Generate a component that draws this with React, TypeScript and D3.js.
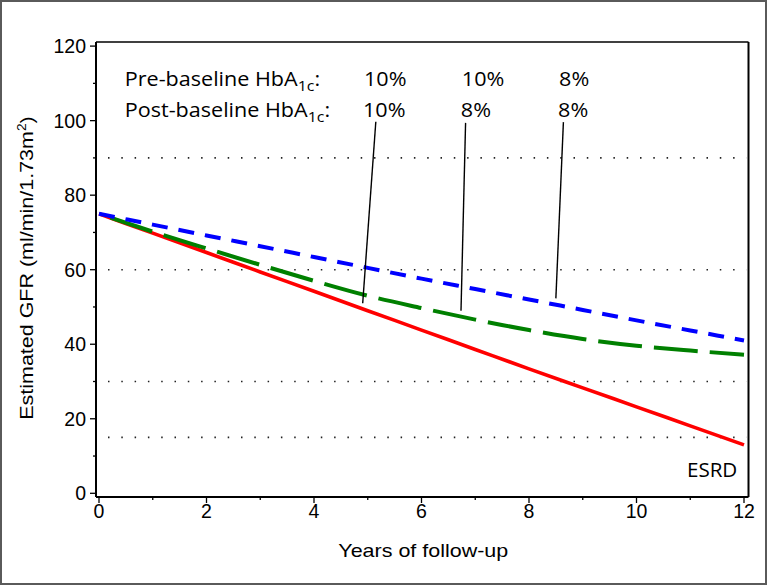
import React from "react";
import * as d3 from "d3";

const years = [0, 1, 2, 3, 4, 5, 6, 7, 8, 9, 10, 11, 12];
const redValues = [75, 69.8, 64.6, 59.4, 54.2, 49.0, 43.8, 38.6, 33.4, 28.3, 23.2, 18.1, 13.0];
const greenValues = [75, 70.2, 65.7, 61.3, 57.0, 53.0, 49.7, 46.6, 43.8, 41.4, 39.6, 38.3, 37.2];
const blueValues = [75, 72.1, 69.2, 66.3, 63.4, 60.5, 57.6, 54.8, 52.0, 49.2, 46.4, 43.7, 41.0];

const xTicks = [0, 2, 4, 6, 8, 10, 12];
const xMinorTicks = [1, 3, 5, 7, 9, 11];
const yTicks = [0, 20, 40, 60, 80, 100, 120];
const yMinorTicks = [10, 30, 50, 70, 90, 110];
const refLines = [90, 60, 30, 15];

const preLabels = ["10%", "10%", "8%"];
const postLabels = ["10%", "8%", "8%"];
const columnX = [4.93, 6.75, 8.56];
// leader lines: [x1, y1, x2, y2] in data units
const leaders = [
  [5.15, 99.7, 4.906, 51.0],
  [6.82, 99.4, 6.735, 49.0],
  [8.64, 99.6, 8.5, 52.3],
];

const W = 768;
const H = 586;
const frameL = 96, frameR = 748.5, frameT = 42, frameB = 497;

const axisFont = "'Liberation Sans', Arial, sans-serif";
const annFont = "'Open Sans', 'Noto Sans', sans-serif";
const annSize = 19.6;
const annStretch = 1.1;
const titleStretch = 1.155;

function SText({ x, y, sx, anchor, family, size, children }: any) {
  return (
    <g transform={`translate(${x},${y}) scale(${sx},1)`}>
      <text x={0} y={0} textAnchor={anchor || "start"} fontFamily={family} fontSize={size} fill="#000">
        {children}
      </text>
    </g>
  );
}

export default function App() {
  const x = d3.scaleLinear().domain([0, 12]).range([99, 744]);
  const y = d3.scaleLinear().domain([0, 120]).range([493.3, 46.1]);
  const line = d3
    .line<number>()
    .x((_, i) => x(years[i]))
    .y((d) => y(d))
    .curve(d3.curveMonotoneX);

  return (
    <svg width={W} height={H} style={{ position: "absolute", left: 0, top: 0, background: "#fff" }}>
      <rect x={1} y={1} width={W - 3} height={H - 3} fill="#fff" stroke="#5a5a5a" strokeWidth={2} />
      {/* reference dotted lines */}
      {refLines.map((v) => (
        <line key={"r" + v} x1={frameL + 2} x2={frameR - 2} y1={y(v)} y2={y(v)}
          stroke="#222" strokeWidth={1.6} strokeDasharray="1.5 11.8" strokeDashoffset={-10} />
      ))}
      {/* series */}
      <path d={line(redValues) || ""} fill="none" stroke="#ff0000" strokeWidth={3.6} />
      <path d={line(greenValues) || ""} fill="none" stroke="#008000" strokeWidth={4} strokeDasharray="44 12" strokeDashoffset={-12} />
      <path d={line(blueValues) || ""} fill="none" stroke="#0000ff" strokeWidth={4} strokeDasharray="16 11" />
      {/* frame */}
      <line x1={frameL} x2={frameR} y1={frameT} y2={frameT} stroke="#000" strokeWidth={1.3} />
      <line x1={frameR} x2={frameR} y1={frameT} y2={frameB} stroke="#000" strokeWidth={2} />
      <line x1={frameL} x2={frameL} y1={frameT} y2={frameB} stroke="#000" strokeWidth={2} />
      <line x1={frameL} x2={frameR} y1={frameB} y2={frameB} stroke="#000" strokeWidth={2} />
      {/* y ticks */}
      {yTicks.map((t) => (
        <g key={"yt" + t}>
          <line x1={frameL - 6} x2={frameL} y1={y(t)} y2={y(t)} stroke="#000" strokeWidth={1.3} />
          <text x={frameL - 10} y={y(t)} dy="0.36em" textAnchor="end" fontFamily={axisFont} fontSize={19.5} fill="#000">{t}</text>
        </g>
      ))}
      {yMinorTicks.map((t) => (
        <line key={"ym" + t} x1={frameL - 3} x2={frameL} y1={y(t)} y2={y(t)} stroke="#000" strokeWidth={1.3} />
      ))}
      {/* x ticks */}
      {xTicks.map((t) => (
        <g key={"xt" + t}>
          <line x1={x(t)} x2={x(t)} y1={frameB} y2={frameB + 6} stroke="#000" strokeWidth={1.3} />
          <text x={x(t)} y={517.5} textAnchor="middle" fontFamily={axisFont} fontSize={19.5} fill="#000">{t}</text>
        </g>
      ))}
      {xMinorTicks.map((t) => (
        <line key={"xm" + t} x1={x(t)} x2={x(t)} y1={frameB} y2={frameB + 3} stroke="#000" strokeWidth={1.3} />
      ))}
      {/* axis titles */}
      <SText x={(frameL + frameR) / 2 + 1} y={556.7} sx={titleStretch} anchor="middle" family={axisFont} size={18.6}>
        Years of follow-up
      </SText>
      <g transform={`translate(33,268) rotate(-90) scale(${titleStretch},1)`}>
        <text x={0} y={0} textAnchor="middle" fontFamily={axisFont} fontSize={18.6} fill="#000">
          Estimated GFR (ml/min/1.73m<tspan dy={-7} fontSize={12}>2</tspan><tspan dy={7}>)</tspan>
        </text>
      </g>
      {/* annotations */}
      <SText x={x(0.48)} y={y(109.4)} sx={annStretch} family={annFont} size={annSize}>
        Pre-baseline HbA<tspan dy={5} fontSize={14.5}>1c</tspan><tspan dy={-5}>:</tspan>
      </SText>
      <SText x={x(0.48)} y={y(100.9)} sx={annStretch} family={annFont} size={annSize}>
        Post-baseline HbA<tspan dy={5} fontSize={14.5}>1c</tspan><tspan dy={-5}>:</tspan>
      </SText>
      {preLabels.map((l, i) => (
        <SText key={"pre" + i} x={x(columnX[i])} y={y(109.4)} sx={annStretch} family={annFont} size={annSize}>{l}</SText>
      ))}
      {postLabels.map((l, i) => (
        <SText key={"post" + i} x={x(columnX[i]) - 1} y={y(100.9)} sx={annStretch} family={annFont} size={annSize}>{l}</SText>
      ))}
      {leaders.map((d, i) => (
        <line key={"ld" + i} x1={x(d[0])} y1={y(d[1])} x2={x(d[2])} y2={y(d[3])} stroke="#000" strokeWidth={1.4} />
      ))}
      <SText x={737.3} y={476.7} sx={1.05} anchor="end" family={annFont} size={annSize}>ESRD</SText>
    </svg>
  );
}
